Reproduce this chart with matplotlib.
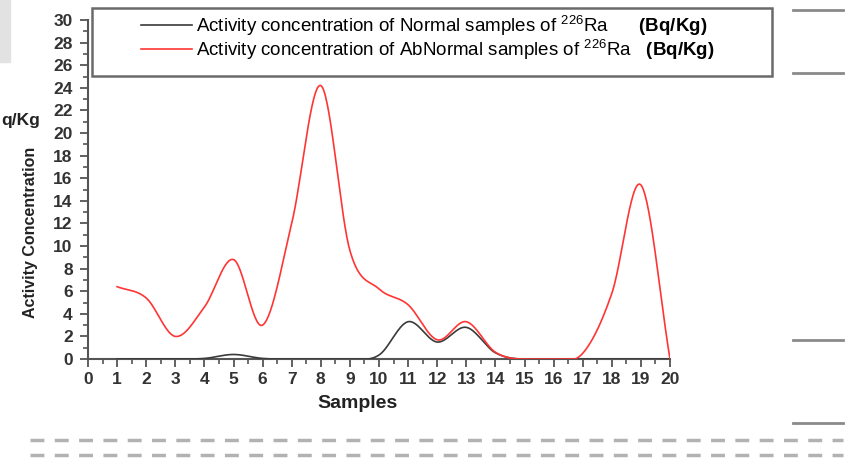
import numpy as np
import matplotlib
matplotlib.use("Agg")
import matplotlib.pyplot as plt
from matplotlib.patches import Rectangle
from matplotlib.lines import Line2D

plt.rcParams['font.family'] = ['Liberation Sans', 'DejaVu Sans']
plt.rcParams['mathtext.fontset'] = 'custom'
plt.rcParams['mathtext.rm'] = 'Liberation Sans'
plt.rcParams['mathtext.bf'] = 'Liberation Sans:bold'

# --- data (value at each sample) ---
samples = list(range(1, 21))
normal = [0, 0, 0, 0.05, 0.4, 0.05, 0, 0, 0, 0.35,
          3.3, 1.5, 2.8, 0.55, 0, 0, 0, 0, 0, 0]
abnormal = [6.4, 5.4, 2.0, 4.6, 8.8, 3.0, 12.0, 24.2, 9.6, 6.2,
            4.8, 1.7, 3.3, 0.6, 0, 0, 0.5, 5.8, 15.4, 0]

x_ticks = list(range(0, 21))
y_ticks = list(range(0, 31, 2))

label_normal = r"Activity concentration of Normal samples of $^{226}$Ra      $\mathbf{(Bq/Kg)}$"
label_abnormal = r"Activity concentration of AbNormal samples of $^{226}$Ra   $\mathbf{(Bq/Kg)}$"


def smooth(x, y, n=600):
    # cardinal (catmull-rom) spline through the points, kept flat on flat runs
    x = np.asarray(x, float)
    y = np.asarray(y, float)
    h = np.diff(x)
    d = np.diff(y) / h
    m = np.zeros_like(y)
    m[1:-1] = (y[2:] - y[:-2]) / (x[2:] - x[:-2])
    m[0] = d[0]
    m[-1] = d[-1]
    for k in range(len(d)):
        if d[k] == 0:
            m[k] = 0
            m[k + 1] = 0
    xs = np.linspace(x[0], x[-1], n)
    i = np.clip(np.searchsorted(x, xs) - 1, 0, len(x) - 2)
    t = (xs - x[i]) / h[i]
    ys = ((2 * t**3 - 3 * t**2 + 1) * y[i] + (t**3 - 2 * t**2 + t) * h[i] * m[i]
          + (-2 * t**3 + 3 * t**2) * y[i + 1] + (t**3 - t**2) * h[i] * m[i + 1])
    return xs, np.maximum(ys, 0)


fig = plt.figure(figsize=(8.51, 4.67), dpi=100)
W, H = 851.0, 467.0
ax = fig.add_axes([88 / W, 1 - 359 / H, (670 - 88) / W, (359 - 20) / H])

xs, ys = smooth(samples, normal)
ax.plot(xs, ys, color='#3a3a3a', lw=1.2, label=label_normal, zorder=3)
xs, ys = smooth(samples, abnormal)
ax.plot(xs, ys, color='#ff3535', lw=1.2, label=label_abnormal, zorder=4)

ax.set_xlim(0, 20)
ax.set_ylim(0, 30)
ax.set_xticks(x_ticks)
ax.set_xticks(np.arange(0.5, 20, 1), minor=True)
ax.set_yticks(y_ticks)
ax.set_yticks(range(1, 30, 2), minor=True)

for s in ('top', 'right'):
    ax.spines[s].set_visible(False)
for s in ('left', 'bottom'):
    ax.spines[s].set_color('#555555')
    ax.spines[s].set_linewidth(1.5)
    ax.spines[s].set_zorder(2)

ax.tick_params(which='major', direction='out', length=6, width=1.3,
               color='#555555', labelcolor='#333333', labelsize=12.5)
ax.tick_params(which='minor', direction='out', length=3.5, width=1.2,
               color='#555555')
ax.tick_params(axis='y', which='major', pad=5)
ax.tick_params(axis='x', which='major', pad=3)
for lab in ax.get_xticklabels() + ax.get_yticklabels():
    lab.set_fontweight('bold')

fig.text(358 / W, 1 - 404 / H, 'Samples', ha='center', va='center',
         fontsize=14, fontweight='bold', color='#222222')
fig.text(31 / W, 1 - 232 / H, 'Activity Concentration', rotation=90,
         ha='center', va='center', fontsize=11.5, fontweight='bold', color='#222222')
fig.text(1 / W, 1 - 121 / H, 'q/Kg', ha='left', va='center',
         fontsize=12.5, fontweight='bold', color='#222222')

# legend box
fig.patches.append(Rectangle((92 / W, 1 - 76 / H), (772 - 92) / W, (76 - 8) / H,
                             transform=fig.transFigure, fill=False,
                             edgecolor='#6a6a6a', lw=1.8))
fig.legend(loc='upper left', bbox_to_anchor=(141 / W, 1 - 13 / H),
           frameon=False, fontsize=13.5, handlelength=2.7, handletextpad=0.25,
           borderpad=0, borderaxespad=0, labelspacing=-0.05)

# scan leftovers around the figure
fig.patches.append(Rectangle((0, 1 - 62 / H), 10 / W, 62 / H,
                             transform=fig.transFigure, color='#e2e2e2'))
for yy in (10, 73, 340, 423):
    fig.lines.append(Line2D([793 / W, 843 / W], [1 - yy / H, 1 - yy / H],
                            transform=fig.transFigure, color='#8a8a8a', lw=2))
for yy in (440, 455):
    fig.lines.append(Line2D([30 / W, 843 / W], [1 - yy / H, 1 - yy / H],
                            transform=fig.transFigure, color='#666666', lw=2.5,
                            dashes=(4, 3), alpha=0.5))

fig.savefig('out.png', dpi=100)
